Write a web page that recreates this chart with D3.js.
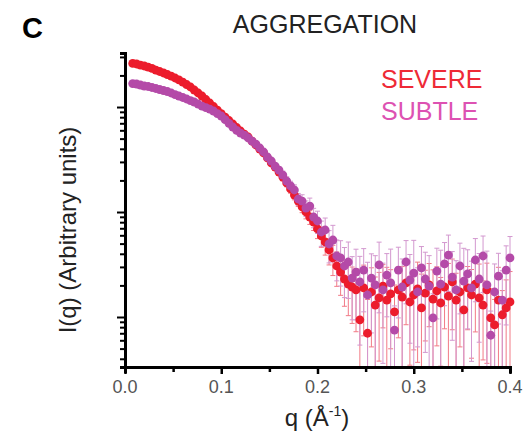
<!DOCTYPE html>
<meta charset="utf-8">
<style>
  body { margin: 0; background: white; }
  text { font-family: "Liberation Sans", Arial, sans-serif; }
  .tick-label { font-size: 18px; fill: #555; text-anchor: middle; }
</style>
<script src="https://cdn.jsdelivr.net/npm/d3@7"></script>
<body>
<script>

  var w = 530;
  var h = 442;

  // scattering vector q (1/Å)
  var q = [0.008,0.012,0.016,0.020,0.024,0.028,0.032,0.036,0.040,
           0.044,0.048,0.052,0.056,0.060,0.064,0.068,0.072,0.076,0.080,
           0.084,0.088,0.092,0.096,0.100,0.104,0.108,0.112,0.116,0.120,
           0.124,0.128,0.132,0.136,0.140,0.144,0.148,0.152,0.156,0.160,
           0.164,0.168,0.172,0.176,0.180,0.184,0.188,0.192,0.196,0.200,
           0.204,0.208,0.212,0.216,0.220,0.224,0.228,0.232,0.236,0.240,
           0.244,0.248,0.252,0.256,0.260,0.264,0.268,0.272,0.276,0.280,
           0.284,0.288,0.292,0.296,0.300,0.304,0.308,0.312,0.316,0.320,
           0.324,0.328,0.332,0.336,0.340,0.344,0.348,0.352,0.356,0.360,
           0.364,0.368,0.372,0.376,0.380,0.384,0.388,0.392,0.396,0.400];

  var severe = [2.60,2.57,2.51,2.46,2.40,2.33,2.25,2.18,2.11,
                2.04,1.97,1.89,1.81,1.73,1.638,1.551,1.452,1.360,1.273,
                1.179,1.092,1.011,0.936,0.867,0.803,0.744,0.689,0.638,0.591,
                0.553,0.518,0.474,0.435,0.398,0.365,0.327,0.293,0.268,0.240,
                0.215,0.189,0.166,0.145,0.127,0.112,0.100,0.0896,0.0803,0.0689,
                0.0591,0.0518,0.0435,0.0365,0.0306,0.0268,0.0230,0.0206,0.0193,0.0181,
                0.0094,0.0189,0.0070,0.0173,0.0130,0.0152,0.0197,0.0145,0.0166,0.0112,
                0.0181,0.0155,0.0211,0.0139,0.0162,0.0185,0.0122,0.0169,0.0202,0.0148,
                0.0177,0.0136,0.0193,0.0158,0.0216,0.0145,0.0173,0.0117,0.0189,0.0162,
                0.0206,0.0152,0.0130,0.0181,0.0098,0.0084,0.0145,0.0105,0.0122,0.0139];

  var subtle = [1.674,1.656,1.620,1.585,1.568,1.534,1.501,1.468,1.436,
                1.405,1.360,1.315,1.273,1.232,1.192,1.153,1.116,1.068,1.022,
                0.989,0.957,0.916,0.867,0.821,0.760,0.700,0.645,0.600,0.565,
                0.541,0.507,0.474,0.444,0.407,0.373,0.334,0.306,0.274,0.251,
                0.225,0.197,0.177,0.162,0.133,0.127,0.109,0.114,0.0896,0.0821,
                0.0645,0.0674,0.0496,0.0541,0.0381,0.0365,0.0306,0.0334,0.0235,0.0268,
                0.0216,0.0280,0.0162,0.0235,0.0202,0.0313,0.0181,0.0251,0.0211,0.0075,
                0.0280,0.0193,0.0334,0.0225,0.0262,0.0173,0.0293,0.0230,0.0197,0.0098,
                0.0274,0.0206,0.0320,0.0389,0.0240,0.0181,0.0306,0.0220,0.0257,0.0189,
                0.0349,0.0230,0.0381,0.0202,0.0067,0.0173,0.0245,0.0145,0.0280,0.0365];

  // relative errors
  var severeErr = [0.01,0.01,0.01,0.01,0.01,0.01,0.01,0.01,0.01,
                   0.01,0.01,0.01,0.01,0.01,0.02,0.02,0.02,0.02,0.02,
                   0.02,0.02,0.02,0.02,0.03,0.03,0.03,0.03,0.03,0.03,
                   0.04,0.04,0.04,0.04,0.05,0.05,0.05,0.06,0.06,0.07,
                   0.08,0.08,0.09,0.10,0.11,0.12,0.14,0.15,0.17,0.19,
                   0.22,0.25,0.28,0.32,0.36,0.40,0.45,0.50,0.55,0.60,
                   0.9,0.65,1.1,0.7,0.85,0.75,0.6,1.05,0.7,0.8,
                   0.65,0.95,0.6,0.75,0.7,0.8,1.1,0.65,0.6,0.9,
                   0.7,0.75,0.6,1.05,0.65,0.8,0.7,0.9,0.6,0.75,
                   0.65,1.1,0.7,0.8,0.9,0.75,1.05,0.7,0.85,0.95];

  var subtleErr = [0.01,0.01,0.01,0.01,0.01,0.01,0.01,0.01,0.01,
                   0.01,0.01,0.01,0.01,0.01,0.02,0.02,0.02,0.02,0.02,
                   0.02,0.02,0.02,0.02,0.03,0.03,0.03,0.03,0.03,0.03,
                   0.04,0.04,0.04,0.04,0.05,0.05,0.05,0.06,0.06,0.07,
                   0.09,0.10,0.11,0.12,0.13,0.15,0.17,0.19,0.21,0.24,
                   0.27,0.30,0.34,0.38,0.42,0.46,0.50,0.55,0.60,0.65,
                   0.75,0.6,1.05,0.7,0.9,0.65,0.8,0.6,1.1,0.7,
                   0.65,0.85,0.6,0.75,1.05,0.7,0.6,0.8,0.95,0.7,
                   0.65,1.1,0.6,0.55,0.75,0.9,0.65,1.05,0.7,0.8,
                   0.6,0.75,0.55,1.1,0.7,0.85,0.65,0.9,0.7,0.6];

  var xTicks = [0, 0.1, 0.2, 0.3, 0.4];
  var xTickLabels = ["0.0", "0.1", "0.2", "0.3", "0.4"];

  var svg = d3.select("body").append("svg")
              .attr("width", w)
              .attr("height", h);

  var x = d3.scaleLinear().domain([0, 0.4]).range([125, 510]);
  var y = d3.scaleLog().domain([0.00334, 3.27]).range([367, 53]);
  var yMin = y.domain()[0];

  var series = [
    {name: "SEVERE", vals: severe, err: severeErr, color: "#ec1c2c", errColor: "#f27a86"},
    {name: "SUBTLE", vals: subtle, err: subtleErr, color: "#b44aa8", errColor: "#d398cf"}
  ];

  // error bars
  series.forEach(function (s) {
    var g = svg.append("g")
               .attr("stroke", s.errColor)
               .attr("stroke-width", 1);
    s.vals.forEach(function (v, i) {
      var e = v * s.err[i];
      var hi = v + e;
      var lo = Math.max(v - e, yMin);
      var cx = x(q[i]);
      g.append("line")
       .attr("x1", cx).attr("x2", cx)
       .attr("y1", y(hi)).attr("y2", y(lo));
      g.append("line")
       .attr("x1", cx - 2.5).attr("x2", cx + 2.5)
       .attr("y1", y(hi)).attr("y2", y(hi));
      if (v - e > yMin) {
        g.append("line")
         .attr("x1", cx - 2.5).attr("x2", cx + 2.5)
         .attr("y1", y(lo)).attr("y2", y(lo));
      }
    });
  });

  series.forEach(function (s) {
    svg.append("g").selectAll("circle")
       .data(s.vals)
       .enter()
       .append("circle")
       .attr("cx", function (d, i) { return x(q[i]); })
       .attr("cy", function (d) { return y(d); })
       .attr("r", 4.4)
       .attr("fill", s.color);
  });

  // axes
  var xAxis = d3.axisBottom(x)
                .tickValues(d3.range(0, 0.401, 0.05))
                .tickSize(6)
                .tickFormat("");
  var gx = svg.append("g")
              .attr("transform", "translate(0,367)")
              .call(xAxis);
  gx.selectAll(".tick line")
    .attr("stroke-width", 2.5)
    .attr("y2", function (d, i) { return i % 2 === 0 ? 7 : 5; });
  gx.select(".domain").attr("stroke-width", 3);

  svg.selectAll(".xlab")
     .data(xTicks)
     .enter()
     .append("text")
     .attr("class", "tick-label")
     .attr("x", function (d) { return x(d); })
     .attr("y", 393)
     .text(function (d, i) { return xTickLabels[i]; });

  var minorY = [];
  [0.001, 0.01, 0.1, 1].forEach(function (dec) {
    for (var k = 1; k <= 9; k++) {
      var v = dec * k;
      if (v >= yMin && v <= 3.27) minorY.push(v);
    }
  });
  var yAxis = d3.axisLeft(y)
                .tickValues(minorY)
                .tickSize(5)
                .tickFormat("");
  var gy = svg.append("g")
              .attr("transform", "translate(125,0)")
              .call(yAxis);
  gy.selectAll(".tick line")
    .attr("stroke-width", 2)
    .attr("x2", function (d) {
      var l = Math.log10(d);
      return Math.abs(l - Math.round(l)) < 1e-6 ? -8 : -5;
    });
  gy.select(".domain").attr("stroke-width", 3);

  // labels
  svg.append("text")
     .attr("x", 22).attr("y", 38)
     .attr("font-size", 29)
     .attr("font-weight", "bold")
     .text("C");

  svg.append("text")
     .attr("x", 325).attr("y", 33)
     .attr("font-size", 25)
     .attr("text-anchor", "middle")
     .attr("fill", "#222")
     .text("AGGREGATION");

  svg.append("text")
     .attr("x", 381).attr("y", 88)
     .attr("font-size", 25)
     .attr("fill", "#ee2a36")
     .text("SEVERE");

  svg.append("text")
     .attr("x", 381).attr("y", 120)
     .attr("font-size", 25)
     .attr("fill", "#dd52b2")
     .text("SUBTLE");

  svg.append("text")
     .attr("transform", "translate(76,230) rotate(-90)")
     .attr("font-size", 24)
     .attr("text-anchor", "middle")
     .attr("fill", "#222")
     .text("I(q) (Arbitrary units)");

  var xl = svg.append("text")
              .attr("x", 317).attr("y", 426)
              .attr("font-size", 24)
              .attr("text-anchor", "middle")
              .attr("fill", "#222");
  xl.append("tspan").text("q (Å");
  xl.append("tspan").attr("font-size", 14).attr("dy", -10).text("-1");
  xl.append("tspan").attr("dy", 10).text(")");

</script>
</body>
